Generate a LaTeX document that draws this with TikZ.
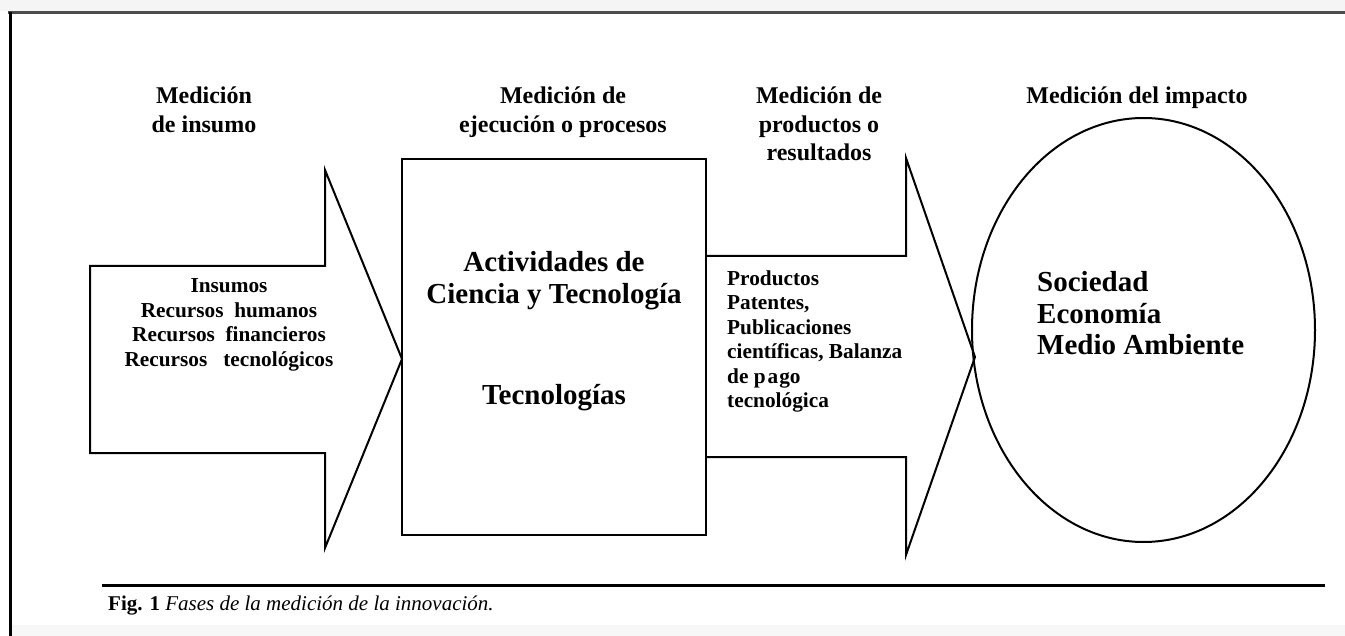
\documentclass[tikz,border=0pt]{standalone}
\usepackage{fontspec}
\setmainfont{Liberation Serif}
\usetikzlibrary{shapes.geometric}

\begin{document}
\begin{tikzpicture}[
    x=1pt, y=-1pt,
    blockarrow/.style={draw=black, line width=2pt, line join=miter},
    phase/.style={align=center, font=\fontsize{24}{28.5}\selectfont\bfseries, inner sep=0pt, anchor=base},
    small/.style={font=\fontsize{21.3}{24.5}\selectfont\bfseries, inner sep=0pt, anchor=base},
    big/.style={font=\fontsize{29}{31.5}\selectfont\bfseries, inner sep=0pt, anchor=base},
    procbox/.style={rectangle, draw=black, line width=2pt, minimum width=304pt, minimum height=376pt, inner sep=0pt},
    impact/.style={ellipse, draw=black, line width=2pt, minimum width=343pt, minimum height=424pt, inner sep=0pt}
]
\useasboundingbox (0,0) rectangle (1345,636);
% Frame
\fill[black!4] (0,0) rectangle (1345,11);
\fill[black!3] (12,625) rectangle (1345,636);
\draw[line width=3pt, black!70] (8,13) -- (1345,13);
\draw[line width=3pt] (10,12) -- (10,636);
% Phase titles (base = last line)
\node[phase] (tinput) at (204,132.5) {Medición\\de insumo};
\node[phase] (tproc) at (563,132.5) {Medición de\\ejecución o procesos};
\node[phase] (toutput) at (819,161) {Medición de\\productos o\\resultados};
\node[phase] (timpact) at (1137,104) {Medición del impacto};
% Input arrow
\draw[blockarrow] (90,266) -- (325,266) -- (325,170) -- (402,359) -- (325,548) -- (325,453) -- (90,453) -- cycle;
\node[small, align=center] (inputs) at (229,366.5) {Insumos\\Recursos\ \ humanos\\Recursos\ \ financieros\\Recursos\ \ \ tecnológicos};
% Process box
\node[procbox] (proc) at (554,347) {};
\node[big, align=center] (activities) at (554,303.5) {Actividades de\\Ciencia y Tecnología};
\node[big] (tech) at (554,405) {Tecnologías};
% Output arrow
\draw[blockarrow] (706,256) -- (906,256) -- (906,158) -- (975,357) -- (906,555) -- (906,457) -- (706,457);
\node[small, align=left, anchor=base west] (outputs) at (727,407.5) {Productos\\Patentes,\\Publicaciones\\científicas, Balanza\\de p\kern2pt a\kern1pt go\\tecnológica};
% Impact ellipse
\node[impact] (society) at (1143.5,330) {};
\node[big, align=left, anchor=base west] (areas) at (1037,355) {Sociedad\\Economía\\Medio Ambiente};
% Caption
\draw[line width=3pt] (102,585) -- (1325,585);
\node[inner sep=0pt, anchor=base west, font=\fontsize{21}{24}\selectfont] (caption) at (108,610) {\textbf{Fig. 1} \textit{Fases de la medición de la innovación.}};
\end{tikzpicture}
\end{document}
